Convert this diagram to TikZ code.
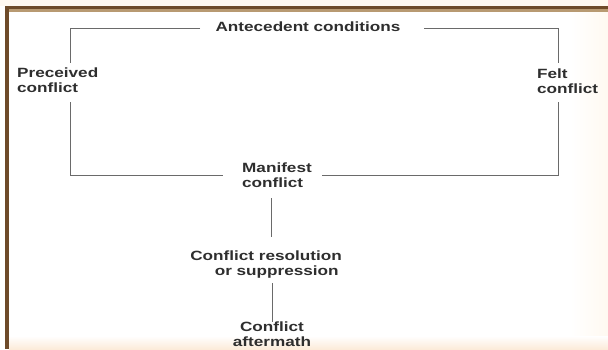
\documentclass[tikz,border=0pt]{standalone}
\usepackage{fontspec}
\newfontfamily\lab{Liberation Sans}[FakeStretch=1.28]
\definecolor{bordbrown}{HTML}{6E4B2A}
\definecolor{bordtan}{HTML}{B89A72}
\definecolor{cream}{HTML}{FFF9F1}
\definecolor{creamb}{HTML}{FCEBD9}
\definecolor{txt}{HTML}{2E2E2E}
\definecolor{ln}{HTML}{6A6A6A}
\begin{document}
\begin{tikzpicture}[x=1pt,y=-1pt,
  lbl/.style={font=\lab\bfseries\fontsize{13.4}{15}\selectfont, text=txt, inner sep=0pt, align=center},
  lblL/.style={lbl, align=left},
  conn/.style={draw=ln, line width=0.9pt}]
\useasboundingbox (0,0) rectangle (608,349);
% background
\fill[white] (0,0) rectangle (608,349);
\fill[cream] (0,0) rectangle (608,6);
\shade[left color=white, right color=cream] (570,11) rectangle (608,343);
\shade[top color=white, bottom color=creamb] (9,336) rectangle (608,349);
% frame
\fill[bordtan] (5,9) rectangle (608,11.5);
\fill[bordbrown] (5,6) rectangle (608,9);
\fill[bordbrown] (5,6) rectangle (9,349);
% nodes
\node[lbl] (ant) at (308,27) {Antecedent conditions};
\node[lblL, anchor=west] (pre) at (17,80) {Preceived\\conflict};
\node[lblL, anchor=west] (felt) at (537,81) {Felt\\conflict};
\node[lblL, anchor=west] (man) at (242,175) {Manifest\\conflict};
\node[lbl] (res) at (266,265) {Conflict resolution\\\hspace*{1.6em}or suppression};
\node[lbl] (aft) at (272,334) {Conflict\\aftermath};
% connector corner coordinates
\coordinate (tl) at (70,28);
\coordinate (tr) at (558,28);
\coordinate (bl) at (70,175);
\coordinate (br) at (558,175);
\coordinate (antL) at (200,28);
\coordinate (antR) at (424,28);
\coordinate (preT) at (70,63);
\coordinate (preB) at (70,102);
\coordinate (feltT) at (558,63);
\coordinate (feltB) at (558,102);
\coordinate (manL) at (223,175);
\coordinate (manR) at (322,175);
\coordinate (manB) at (271,198);
\coordinate (resT) at (271,237);
\coordinate (resB) at (272,283);
\coordinate (aftT) at (272,322);
% connectors
\draw[conn] (antL) -- (tl) -- (preT);
\draw[conn] (antR) -- (tr) -- (feltT);
\draw[conn] (preB) -- (bl) -- (manL);
\draw[conn] (feltB) -- (br) -- (manR);
\draw[conn] (manB) -- (resT);
\draw[conn] (resB) -- (aftT);
\end{tikzpicture}
\end{document}
